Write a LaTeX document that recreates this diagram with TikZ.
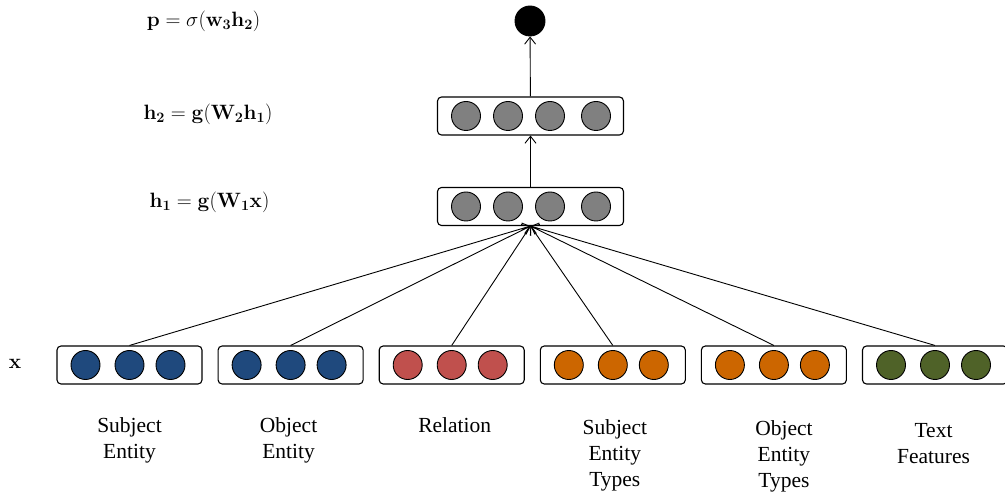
\documentclass[tikz,border=0pt]{standalone}
\usepackage[no-math]{fontspec}
\newfontfamily\captfont{Liberation Serif}
\usepackage{amsmath}
\usetikzlibrary{arrows.meta,positioning}
\definecolor{entBlue}{RGB}{31,73,125}
\definecolor{relRed}{RGB}{192,80,77}
\definecolor{typeOrange}{RGB}{204,102,0}
\definecolor{textGreen}{RGB}{79,98,40}
\definecolor{hidGray}{RGB}{128,128,128}
\tikzset{
  vecBox/.style   = {rectangle, rounded corners=4pt, draw, line width=1.1pt,
                     minimum width=#1, minimum height=38pt, inner sep=0pt},
  neuron/.style   = {circle, draw, line width=0.9pt, fill=#1,
                     minimum size=29pt, inner sep=0pt},
  netArrow/.style = {-{Straight Barb[length=7pt,width=11pt]}, line width=0.9pt},
  eqLbl/.style    = {font=\fontsize{21.3}{25}\selectfont, inner sep=0pt},
  capLbl/.style   = {font=\captfont\fontsize{21.5}{26}\selectfont,
                     align=center, anchor=north, inner sep=0pt},
}
\begin{document}
\begin{tikzpicture}[x=1pt,y=-1pt,node distance=15pt]
  \useasboundingbox (0,0) rectangle (1005,494);
  % hidden layers and output
  \node[vecBox=186pt](h1) at (530.5,206.5){};
  \node[vecBox=186pt](h2) at (530.5,116){};
  \node[neuron=black,minimum size=30pt](out) at (530,21){};
  \foreach \dx [count=\i] in {-64.5,-22.5,19.5,65.5}{
    \node[neuron=hidGray](h1n\i) at ([xshift=\dx pt]h1.center){};
    \node[neuron=hidGray](h2n\i) at ([xshift=\dx pt]h2.center){};
  }
  % input vectors
  \node[vecBox=145pt](subj) at (129.5,365){};
  \node[vecBox=145pt,right=of subj](obj){};
  \node[vecBox=145pt,right=of obj](rel){};
  \node[vecBox=145pt,right=of rel](stype){};
  \node[vecBox=145pt,right=of stype](otype){};
  \node[vecBox=145pt,right=of otype](txt){};
  \foreach \v/\c in {subj/entBlue,obj/entBlue,rel/relRed,stype/typeOrange,
                     otype/typeOrange,txt/textGreen}{
    \foreach \dx [count=\i] in {-44,0,41}{
      \node[neuron=\c](\v\i) at ([xshift=\dx pt]\v.center){};
    }
    \draw[netArrow](\v.north)--(h1.south);
  }
  \draw[netArrow](h1)--(h2);
  \draw[netArrow](h2)--(out);
  % equations
  \node[eqLbl](eqP) at (203.5,21.5){$\mathbf{p}=\sigma(\mathbf{w_3h_2})$};
  \node[eqLbl](eqH2) at (208,114.5){$\mathbf{h_2}=\mathbf{g}(\mathbf{W_2h_1})$};
  \node[eqLbl](eqH1) at (209.5,202){$\mathbf{h_1}=\mathbf{g}(\mathbf{W_1x})$};
  \node[eqLbl](eqX) at (15,364){$\mathbf{x}$};
  % captions
  \node[capLbl,below=33pt of subj](subjLbl){Subject\\Entity};
  \node[capLbl,below=33pt of obj,xshift=-2pt](objLbl){Object\\Entity};
  \node[capLbl,below=32.5pt of rel,xshift=3pt](relLbl){Relation};
  \node[capLbl,below=34.5pt of stype,xshift=2pt](stypeLbl){Subject\\Entity\\Types};
  \node[capLbl,below=36pt of otype,xshift=10pt](otypeLbl){Object\\Entity\\Types};
  \node[capLbl,below=38.5pt of txt,xshift=-1.5pt](txtLbl){Text\\Features};
\end{tikzpicture}
\end{document}
